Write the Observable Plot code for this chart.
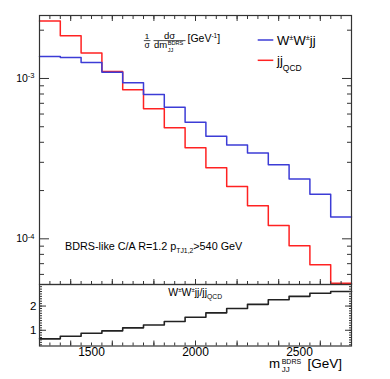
<!DOCTYPE html>
<html><head><meta charset="utf-8">
<script src="https://cdn.jsdelivr.net/npm/d3@7"></script>
<script src="https://cdn.jsdelivr.net/npm/@observablehq/plot@0.6"></script>
<style>
body{margin:0;background:#fff;}
#chart{position:relative;width:390px;height:379px;overflow:hidden;background:#fff;font-family:"Liberation Sans",Arial,sans-serif;}
#chart svg{position:absolute;left:0;overflow:visible;}
</style></head><body><div id="chart"></div>
<script>
// ---- data ----
const binEdges = [1250,1350,1450,1550,1650,1750,1850,1950,2050,2150,2250,2350,2450,2550,2650,2750];
const wwjj  = [1.37e-3,1.35e-3,1.26e-3,1.094e-3,9.4e-4,7.94e-4,6.62e-4,5.33e-4,4.36e-4,3.85e-4,3.43e-4,2.9e-4,2.36e-4,1.9e-4,1.37e-4];
const jjqcd = [2.28e-3,1.85e-3,1.44e-3,1.106e-3,8.5e-4,6.47e-4,4.92e-4,3.7e-4,2.77e-4,2.12e-4,1.61e-4,1.21e-4,9.04e-5,6.88e-5,5.29e-5];
const ratio = [0.645,0.752,0.876,0.975,1.10,1.22,1.36,1.54,1.72,1.90,2.07,2.26,2.40,2.53,2.60];
const xLabelTicks = [1500,2000,2500];
const yLabelTicks = [1e-3,1e-4];
const yLabelExp = ["-3","-4"];
const ratioLabelTicks = [1,2];

const FONT = '"Liberation Sans", Arial, sans-serif';
const AX = "#333";
const xDomain = [1250,2750];
const yDomain = [5.19e-5, 2.47e-3];
const rDomain = [0.35, 2.89];

function steps(vals){ return binEdges.map((e,i)=>({x:e, y: vals[Math.min(i, vals.length-1)]})); }

const xMinor = d3.range(1300, 2750, 50);
const xMid = d3.range(1400, 2750, 200);
const yMinor = [];
for (const dec of [1e-5,1e-4,1e-3]) for (let m=2;m<=9;m++){const v=m*dec; if(v>yDomain[0] && v<yDomain[1]) yMinor.push(v);}
const rMinor = d3.range(4, 29, 1).map(d=>d/10);

function tickAxesX(anchor, ticks, size){
  return Plot.axisX({anchor, ticks, tickSize:size, dy: anchor==="bottom" ? -size : size, fill:"none", stroke:AX, label:null});
}
function tickAxesY(anchor, ticks, size){
  return Plot.axisY({anchor, ticks, tickSize:size, dx: anchor==="left" ? size : -size, fill:"none", stroke:AX, label:null});
}

const topPlot = Plot.plot({
  width:390, height:284, marginTop:15, marginBottom:0, marginLeft:39, marginRight:39,
  style:{fontFamily:FONT, background:"transparent", overflow:"visible"},
  x:{domain:xDomain},
  y:{type:"log", domain:yDomain},
  marks:[
    Plot.line(steps(jjqcd), {x:"x", y:"y", curve:"step-after", stroke:"#ff2222", strokeWidth:1.5}),
    Plot.line(steps(wwjj), {x:"x", y:"y", curve:"step-after", stroke:"#3c3cd6", strokeWidth:1.5}),
    tickAxesX("bottom", xMinor, 3), tickAxesX("bottom", xMid, 5),
    tickAxesX("top", xMinor, 3), tickAxesX("top", xMid, 5),
    tickAxesY("left", yMinor, 5), tickAxesY("left", yLabelTicks, 10),
    tickAxesY("right", yMinor, 5), tickAxesY("right", yLabelTicks, 10),
    Plot.axisY({anchor:"left", ticks:yLabelTicks, tickSize:0, tickPadding:5, fontSize:10.5, tickFormat:()=> "10", label:null, fill:"#000"}),
    Plot.frame({stroke:AX, strokeWidth:1.2})
  ]
});

const bottomPlot = Plot.plot({
  width:390, height:95, marginTop:0, marginBottom:33.5, marginLeft:39, marginRight:39,
  style:{fontFamily:FONT, background:"transparent", overflow:"visible"},
  x:{domain:xDomain},
  y:{domain:rDomain},
  marks:[
    Plot.line(steps(ratio), {x:"x", y:"y", curve:"step-after", stroke:"#222", strokeWidth:1.6}),
    tickAxesX("bottom", xMinor, 3), tickAxesX("bottom", xMid, 5),
    tickAxesY("left", rMinor, 3), tickAxesY("left", ratioLabelTicks, 7),
    tickAxesY("right", rMinor, 3), tickAxesY("right", ratioLabelTicks, 7),
    Plot.axisY({anchor:"left", ticks:ratioLabelTicks, tickSize:0, tickPadding:3, fontSize:11.5, tickFormat:d=>String(d), label:null, fill:"#000"}),
    Plot.axisX({anchor:"bottom", ticks:xLabelTicks, tickSize:0, tickPadding:1, fontSize:12, tickFormat:d=>String(d), label:null, fill:"#000"}),
    Plot.frame({stroke:AX, strokeWidth:1.2})
  ]
});

const chart = document.getElementById("chart");
topPlot.style.top = "0px";
bottomPlot.style.top = "284px";
chart.appendChild(topPlot);
chart.appendChild(bottomPlot);

// superscripts on the log labels
d3.select(topPlot).selectAll('g[aria-label="y-axis tick label"] text').each(function(d,i){
  d3.select(this).append("tspan").attr("font-size",7.5).attr("dy","-0.45em").text(yLabelExp[i]);
});

// ---- annotations ----
function T(g, x, y, size, anchor){
  const t = g.append("text").attr("x",x).attr("y",y).attr("font-size",size).attr("fill","#000")
    .attr("text-anchor", anchor || "start").attr("font-family", FONT);
  return t;
}
const g = d3.select(topPlot).append("g").attr("font-family",FONT).attr("text-anchor","start");
// y-title formula
T(g,147,38.8,8,"middle").text("1");
g.append("line").attr("x1",143.8).attr("x2",150.4).attr("y1",40.6).attr("y2",40.6).attr("stroke","#000").attr("stroke-width",0.7);
T(g,147,47.5,8.5,"middle").text("σ");
T(g,169.5,39,9.5,"middle").text("dσ");
g.append("line").attr("x1",153.5).attr("x2",185.5).attr("y1",40.6).attr("y2",40.6).attr("stroke","#000").attr("stroke-width",0.7);
T(g,154,48,9.5).text("dm");
T(g,167.8,44.8,5.6).text("BDRS");
T(g,167.8,51.5,5.6).text("JJ");
{
  const t = T(g,187.5,42,10.5);
  t.append("tspan").text("[GeV");
  t.append("tspan").attr("font-size",6.5).attr("dy",-4.5).text("-1");
  t.append("tspan").attr("dy",4.5).text("]");
}
// legend
g.append("line").attr("x1",257.7).attr("x2",273.3).attr("y1",40).attr("y2",40).attr("stroke","#3c3cd6").attr("stroke-width",1.5);
{
  const t = T(g,277,45.3,13);
  t.append("tspan").text("W");
  t.append("tspan").attr("font-size",7.5).attr("dy",-5).text("±");
  t.append("tspan").attr("dy",5).text("W");
  t.append("tspan").attr("font-size",7.5).attr("dy",-5).text("±");
  t.append("tspan").attr("dy",5).text("jj");
}
g.append("line").attr("x1",257.7).attr("x2",273.3).attr("y1",60.3).attr("y2",60.3).attr("stroke","#ff2222").attr("stroke-width",1.5);
{
  const t = T(g,277,65,13);
  t.append("tspan").text("jj");
  t.append("tspan").attr("font-size",8.5).attr("dy",5.5).text("QCD");
}
// selection text
{
  const t = T(g,65,250,10.8);
  t.append("tspan").text("BDRS-like C/A R=1.2 p");
  t.append("tspan").attr("font-size",6.8).attr("dy",3).text("TJ1,2");
  t.append("tspan").attr("dy",-3).text(">540 GeV");
}
// bottom annotations
const gb = d3.select(bottomPlot).append("g").attr("font-family",FONT).attr("text-anchor","start");
{
  const t = T(gb,168.3,12,10.5);
  t.append("tspan").text("W");
  t.append("tspan").attr("font-size",6).attr("dy",-4).text("±");
  t.append("tspan").attr("dy",4).text("W");
  t.append("tspan").attr("font-size",6).attr("dy",-4).text("±");
  t.append("tspan").attr("dy",4).text("jj/jj");
  t.append("tspan").attr("font-size",6.8).attr("dy",3).text("QCD");
}
T(gb,269,84,13.3).text("m");
T(gb,281.7,80,7).text("BDRS");
T(gb,281.7,88,8).text("JJ");
T(gb,342,84,13.5,"end").text("[GeV]");
</script></body></html>
